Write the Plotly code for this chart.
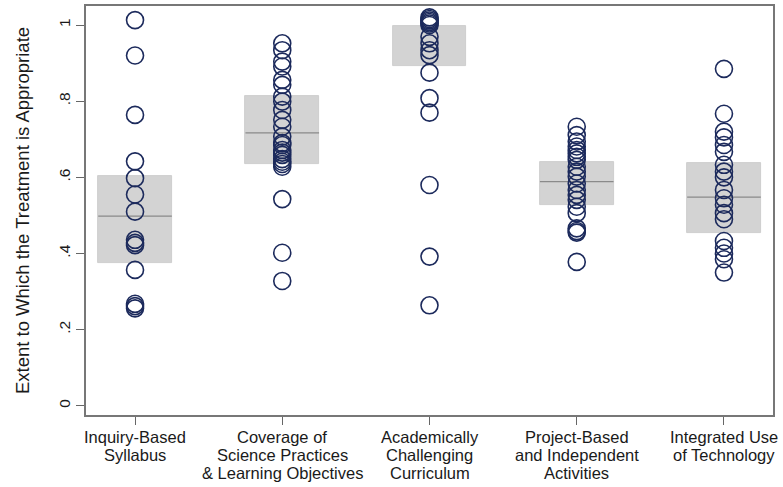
import plotly.graph_objects as go

categories = [
    "Inquiry-Based<br>Syllabus",
    "Coverage of<br>Science Practices<br>& Learning Objectives",
    "Academically<br>Challenging<br>Curriculum",
    "Project-Based<br>and Independent<br>Activities",
    "Integrated Use<br>of Technology",
]

q1 = [0.374, 0.634, 0.893, 0.528, 0.454]
median = [0.498, 0.717, None, 0.589, 0.548]
q3 = [0.604, 0.813, 0.998, 0.640, 0.638]

inquiry = [1.013, 0.92, 0.764, 0.642, 0.598, 0.555, 0.51, 0.436, 0.428, 0.422,
           0.357, 0.268, 0.262, 0.256]
coverage = [0.952, 0.934, 0.904, 0.891, 0.856, 0.843, 0.812, 0.799, 0.777, 0.751,
            0.733, 0.707, 0.69, 0.685, 0.672, 0.665, 0.659, 0.648, 0.641, 0.635,
            0.628, 0.543, 0.402, 0.328]
academic = [1.02, 1.016, 1.012, 1.008, 1.004, 1.0, 0.969, 0.952, 0.934, 0.921,
            0.875, 0.808, 0.77, 0.58, 0.392, 0.264]
project = [0.733, 0.711, 0.694, 0.681, 0.672, 0.663, 0.654, 0.646, 0.628, 0.615,
           0.602, 0.584, 0.567, 0.554, 0.541, 0.523, 0.506, 0.466, 0.459, 0.455,
           0.378]
integrated = [0.885, 0.767, 0.72, 0.705, 0.685, 0.667, 0.633, 0.615, 0.6, 0.567,
              0.545, 0.528, 0.506, 0.49, 0.433, 0.415, 0.4, 0.385, 0.35]

series = [inquiry, coverage, academic, project, integrated]

ytick_vals = [0, 0.2, 0.4, 0.6, 0.8, 1]
ytick_text = ["0", ".2", ".4", ".6", ".8", "1"]

positions = list(range(len(categories)))
box_width = 0.5

font = "Liberation Sans, Arial, sans-serif"
ink = "#1a1a1a"

fig = go.Figure()

fig.add_trace(go.Bar(
    x=positions,
    y=[b - a for a, b in zip(q1, q3)],
    base=q1,
    width=box_width,
    marker=dict(color="#d3d3d3", line=dict(color="#c6c6c6", width=0.8)),
    hoverinfo="skip",
    showlegend=False,
))

mx, my = [], []
for i, m in zip(positions, median):
    if m is None:
        continue
    mx += [i - box_width / 2, i + box_width / 2, None]
    my += [m, m, None]
fig.add_trace(go.Scatter(
    x=mx, y=my, mode="lines",
    line=dict(color="#8a8a8a", width=1.2),
    hoverinfo="skip", showlegend=False,
))

for i, vals in zip(positions, series):
    fig.add_trace(go.Scatter(
        x=[i] * len(vals), y=vals, mode="markers",
        marker=dict(symbol="circle-open", size=17, color="#1c2a5c",
                    line=dict(width=1.6, color="#1c2a5c")),
        hoverinfo="skip", showlegend=False,
    ))

# category labels, one annotation per text line for tight line spacing
for i, label in zip(positions, categories):
    for k, line in enumerate(label.split("<br>")):
        fig.add_annotation(
            x=i, xref="x", y=0, yref="paper",
            text=line, showarrow=False,
            xanchor="center", yanchor="middle",
            yshift=-(22 + 18 * k),
            font=dict(size=16.5, family=font, color=ink),
        )

fig.update_layout(
    width=783, height=487,
    margin=dict(l=86, r=10, t=6, b=72, autoexpand=False),
    plot_bgcolor="white", paper_bgcolor="white",
    font=dict(family=font, color=ink),
    bargap=0,
    xaxis=dict(
        range=[-0.333, 4.333],
        tickvals=positions, showticklabels=False,
        ticks="outside", ticklen=8, tickcolor="#666666", tickwidth=1,
        showgrid=False, zeroline=False,
        showline=True, linecolor="#777777", linewidth=1.5, mirror=True,
    ),
    yaxis=dict(
        range=[-0.024, 1.05],
        tickvals=ytick_vals, ticktext=ytick_text,
        tickangle=-90,
        tickfont=dict(size=15.5, family=font, color=ink),
        ticks="outside", ticklen=8, tickcolor="#666666", tickwidth=1,
        showgrid=False, zeroline=False,
        showline=True, linecolor="#777777", linewidth=1.5, mirror=True,
        title=dict(text="Extent to Which the Treatment is Appropriate",
                   font=dict(size=18.5, family=font, color=ink),
                   standoff=22),
    ),
)

fig.write_html("out.html", config={"displayModeBar": False},
               post_script="document.body.style.margin='0';")
